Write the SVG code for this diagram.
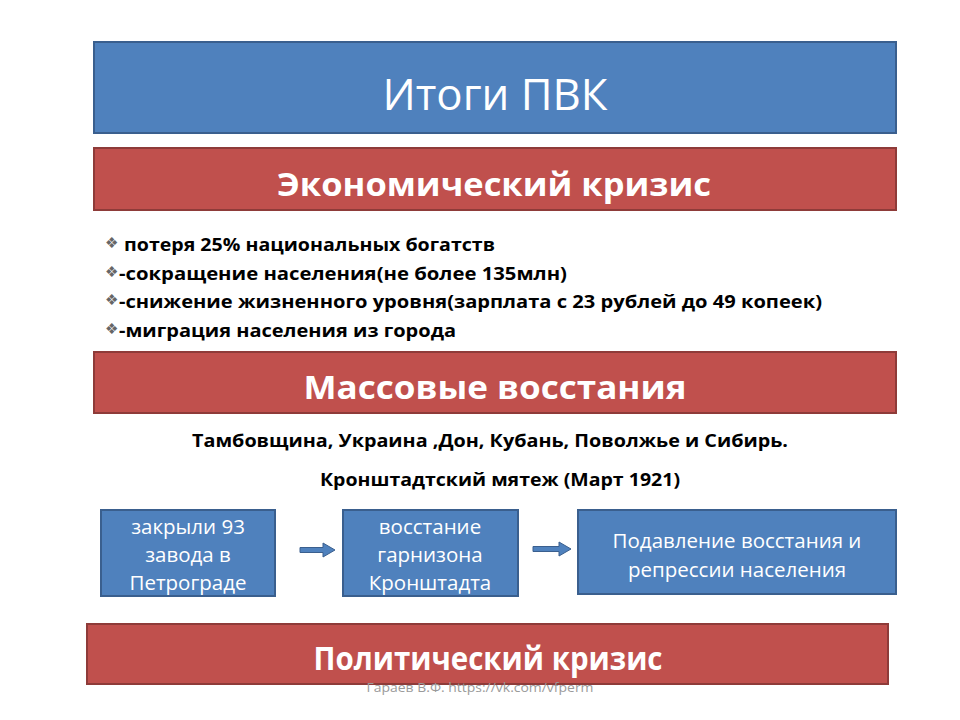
<svg xmlns="http://www.w3.org/2000/svg" width="960" height="720" viewBox="0 0 960 720">
<style>
.blue{fill:#4F81BD;stroke:#3A5F8E;stroke-width:2}
.red{fill:#C0504D;stroke:#8E3B39;stroke-width:2}
.hdr{font-family:"Open Sans","Liberation Sans",sans-serif;font-weight:bold;font-size:32px;fill:#fff;text-anchor:middle}
.bt{font-family:"Open Sans","Liberation Sans",sans-serif;font-weight:bold;font-size:17px;fill:#000}
.ct{font-family:"Open Sans","Liberation Sans",sans-serif;font-weight:bold;font-size:17px;fill:#000;text-anchor:middle}
.wt{font-family:"Open Sans","Liberation Sans",sans-serif;font-size:20.5px;fill:#fff;text-anchor:middle}
.bul{font-family:"DejaVu Sans",sans-serif;font-size:15px;fill:#666}
.arr{fill:#4F81BD;stroke:#3A5F8E;stroke-width:1}
</style>
<rect width="960" height="720" fill="#fff"/>
<g id="title">
<rect class="blue" x="94" y="42" width="802" height="91"/>
<text x="495" y="110" font-family="Open Sans, Liberation Sans, sans-serif" font-size="44" fill="#fff" text-anchor="middle" textLength="225" lengthAdjust="spacingAndGlyphs">Итоги ПВК</text>
</g>
<g id="econ">
<rect class="red" x="94" y="148" width="802" height="62"/>
<text class="hdr" x="494" y="196" textLength="434" lengthAdjust="spacingAndGlyphs">Экономический кризис</text>
</g>
<g id="econ-list">
<text class="bul" x="105" y="248">❖</text>
<text class="bt" x="124" y="251" textLength="371" lengthAdjust="spacingAndGlyphs">потеря 25% национальных богатств</text>
<text class="bul" x="105" y="277">❖</text>
<text class="bt" x="119" y="280" textLength="448" lengthAdjust="spacingAndGlyphs">-сокращение населения(не более 135млн)</text>
<text class="bul" x="105" y="305">❖</text>
<text class="bt" x="119" y="308" textLength="703" lengthAdjust="spacingAndGlyphs">-снижение жизненного уровня(зарплата с 23 рублей до 49 копеек)</text>
<text class="bul" x="105" y="334">❖</text>
<text class="bt" x="119" y="337" textLength="337" lengthAdjust="spacingAndGlyphs">-миграция населения из города</text>
</g>
<g id="mass">
<rect class="red" x="94" y="352" width="802" height="61"/>
<text class="hdr" x="495" y="399" textLength="383" lengthAdjust="spacingAndGlyphs">Массовые восстания</text>
</g>
<g id="regions">
<text class="ct" x="490" y="447" textLength="596" lengthAdjust="spacingAndGlyphs">Тамбовщина, Украина ,Дон, Кубань, Поволжье и Сибирь.</text>
<text class="ct" x="500" y="486" textLength="360" lengthAdjust="spacingAndGlyphs">Кронштадтский мятеж (Март 1921)</text>
</g>
<g id="box1">
<rect class="blue" x="101" y="510" width="174" height="86"/>
<text class="wt" x="188" y="534">закрыли 93</text>
<text class="wt" x="188" y="562">завода в</text>
<text class="wt" x="188" y="590">Петрограде</text>
</g>
<g id="box2">
<rect class="blue" x="343" y="510" width="175" height="86"/>
<text class="wt" x="430" y="534">восстание</text>
<text class="wt" x="430" y="562">гарнизона</text>
<text class="wt" x="430" y="590">Кронштадта</text>
</g>
<g id="box3">
<rect class="blue" x="578" y="510" width="318" height="84"/>
<text class="wt" x="737" y="548">Подавление восстания и</text>
<text class="wt" x="737" y="577">репрессии населения</text>
</g>
<g id="connectors">
<path class="arr" d="M300,547.5 H323 V543 L335,550 L323,557 V552.5 H300 Z"/>
<path class="arr" d="M533,546.5 H559 V542 L571,549 L559,556 V551.5 H533 Z"/>
</g>
<g id="polit">
<rect class="red" x="87" y="624" width="801" height="60"/>
<text class="hdr" x="488" y="670" textLength="349" lengthAdjust="spacingAndGlyphs">Политический кризис</text>
</g>
<text x="480" y="692" font-family="Open Sans, Liberation Sans, sans-serif" font-size="13" fill="#9a9a9a" text-anchor="middle" textLength="227" lengthAdjust="spacingAndGlyphs">Гараев В.Ф. https://vk.com/vfperm</text>
</svg>
